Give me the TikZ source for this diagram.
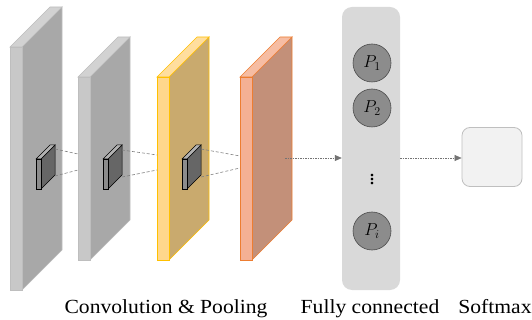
\documentclass[tikz,border=0pt]{standalone}
\usepackage{fontspec}
\setmainfont{Liberation Serif}
\usetikzlibrary{arrows.meta}

\definecolor{grayfront}{HTML}{C8C8C8}
\definecolor{grayside}{HTML}{A8A8A8}
\definecolor{graytop}{HTML}{D2D2D2}
\definecolor{grayedge}{HTML}{BEBEBE}
\definecolor{yelfront}{HTML}{FFD78C}
\definecolor{yelside}{HTML}{C9AA6E}
\definecolor{yeltop}{HTML}{FFDE9E}
\definecolor{yeledge}{HTML}{FFC000}
\definecolor{orgfront}{HTML}{F4B094}
\definecolor{orgside}{HTML}{C39079}
\definecolor{orgtop}{HTML}{F6BDA3}
\definecolor{orgedge}{HTML}{ED7D31}
\definecolor{fcback}{HTML}{D9D9D9}
\definecolor{smback}{HTML}{F2F2F2}
\definecolor{smedge}{HTML}{BFBFBF}

% layer: x, top, bottom, front, side, top colour, edge
\newcommand{\layer}[7]{%
  \filldraw[fill=#5, draw=#7, line width=0.7pt] (#1+12,#2) -- (#1+52,#2-40) -- (#1+52,#3-40) -- (#1+12,#3) -- cycle;
  \filldraw[fill=#6, draw=#7, line width=0.7pt] (#1,#2) -- (#1+40,#2-40) -- (#1+52,#2-40) -- (#1+12,#2) -- cycle;
  \filldraw[fill=#4, draw=#7, line width=0.7pt] (#1,#2) rectangle (#1+12,#3);
}
% kernel: x of front face
\newcommand{\kernel}[1]{%
  \filldraw[fill=black!60, draw=black, line width=0.5pt] (#1+5,159) -- (#1+19,145) -- (#1+19,175) -- (#1+5,189) -- cycle;
  \filldraw[fill=black!30, draw=black, line width=0.5pt] (#1,159) -- (#1+14,145) -- (#1+19,145) -- (#1+5,159) -- cycle;
  \filldraw[fill=black!45, draw=black, line width=0.5pt] (#1,159) rectangle (#1+5,189);
}
% captions are set a little wider, as in the figure
\newcommand{\widen}[1]{\scalebox{1.08}[1]{#1}}

\begin{document}
\begin{tikzpicture}[x=1pt,y=-1pt,
  link/.style={gray, dash pattern=on 3pt off 2pt, line width=0.6pt},
  flow/.style={black!55, dash pattern=on 1.5pt off 1pt, line width=0.6pt, -{Triangle[length=7pt,width=6pt]}},
  unit/.style={circle, draw=black!70, fill=black!45, line width=0.6pt, minimum size=38pt, inner sep=0pt, font=\fontsize{17}{19}\selectfont},
  caption/.style={anchor=base, font=\fontsize{20}{22}\selectfont}]
\useasboundingbox (0,0) rectangle (532,320);

% convolution & pooling layers
\layer{10}{47}{290}{grayfront}{grayside}{graytop}{grayedge}
\layer{78}{77}{260}{grayfront}{grayside}{graytop}{grayedge}
\layer{157}{77}{260}{yelfront}{yelside}{yeltop}{yeledge}
\layer{240}{77}{260}{orgfront}{orgside}{orgtop}{orgedge}

\kernel{36}
\kernel{103}
\kernel{182}

% receptive field lines
\coordinate (k1a) at (55,149);  \coordinate (k1b) at (55,176);
\coordinate (l2a) at (78,154);  \coordinate (l2b) at (78,170);
\coordinate (k2a) at (122,150); \coordinate (k2b) at (122,177);
\coordinate (l3a) at (157,155); \coordinate (l3b) at (157,170);
\coordinate (k3a) at (201,149); \coordinate (k3b) at (201,177);
\coordinate (l4a) at (240,156); \coordinate (l4b) at (240,168);
\draw[link] (k1a) -- (l2a);
\draw[link] (k1b) -- (l2b);
\draw[link] (k2a) -- (l3a);
\draw[link] (k2b) -- (l3b);
\draw[link] (k3a) -- (l4a);
\draw[link] (k3b) -- (l4b);

% fully connected
\node[fill=fcback, rounded corners=10pt, minimum width=58pt, minimum height=283pt] (fc) at (371,148.5) {};
\node[unit] (p1) at (372,63) {$P_1$};
\node[unit] (p2) at (372,108) {$P_2$};
\node[font=\fontsize{22}{24}\selectfont, inner sep=0pt] (pdots) at (372,177) {$\vdots$};
\node[unit] (pi) at (372,231) {$P_i$};

% softmax
\node[fill=smback, draw=smedge, line width=0.8pt, rounded corners=8pt, minimum width=60pt, minimum height=59pt] (sm) at (492,157) {};

\coordinate (out) at (285,158);
\draw[flow] (out) -- (out -| fc.west);
\draw[flow] (fc.east |- out) -- (sm.west |- out);

% captions
\node[caption] (cap1) at (166,313) {\widen{Convolution \& Pooling}};
\node[caption] (cap2) at (370,313) {\widen{Fully connected}};
\node[caption] (cap3) at (495,313) {\widen{Softmax}};
\end{tikzpicture}
\end{document}
